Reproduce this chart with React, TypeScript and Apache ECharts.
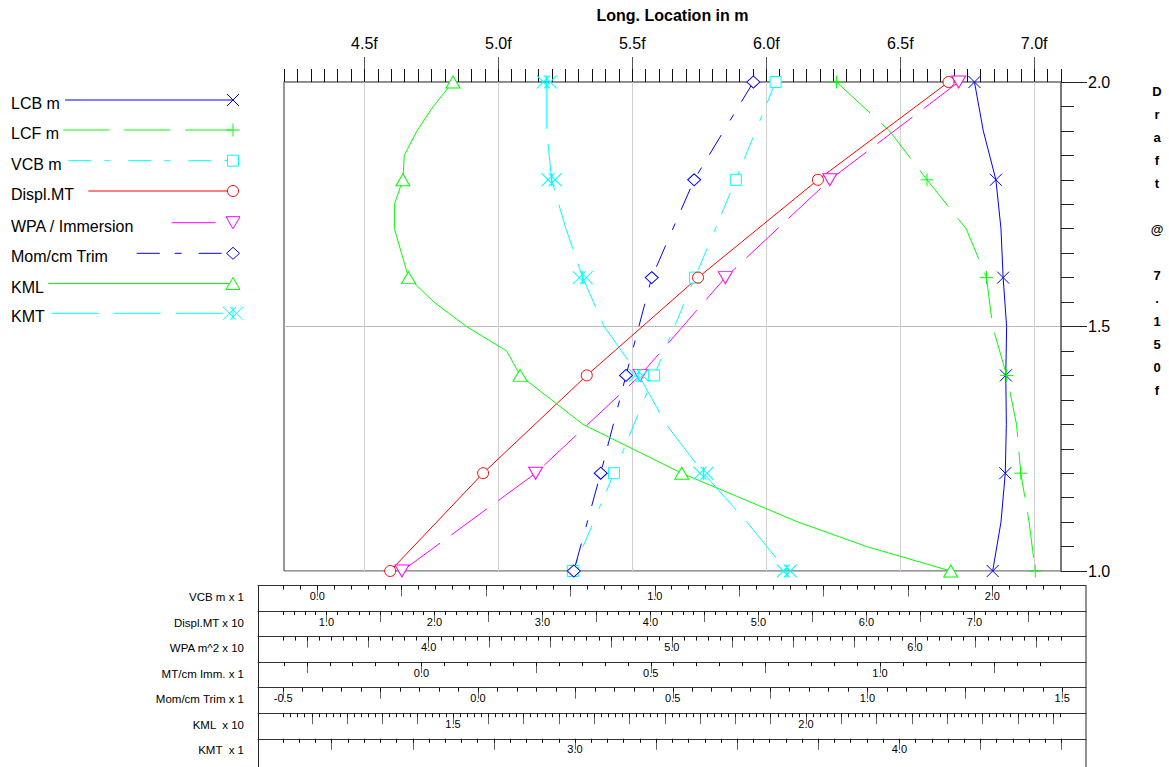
import React, { useEffect, useRef } from 'react';
import * as echarts from 'echarts';

const FONT = 'Liberation Sans, Arial, Helvetica, sans-serif';

// ---------- data (drafts in m, values in each curve's own unit) ----------
const drafts11 = [2.0, 1.9, 1.8, 1.7, 1.6, 1.5, 1.4, 1.3, 1.2, 1.1, 1.0];
const drafts6 = [2.0, 1.8, 1.6, 1.4, 1.2, 1.0];
const kmlDrafts = [2.0, 1.95, 1.9, 1.85, 1.8, 1.75, 1.7, 1.6, 1.55, 1.5, 1.45, 1.4, 1.3, 1.2, 1.1, 1.05, 1.0];

const lcbValues = [6.777, 6.81, 6.857, 6.876, 6.884, 6.897, 6.894, 6.896, 6.892, 6.876, 6.845]; // m
const lcfValues = [6.262, 6.46, 6.6, 6.746, 6.822, 6.845, 6.897, 6.934, 6.95, 6.981, 7.004]; // m
const vcbValues = [1.358, 1.24, 1.119, 0.998, 0.879, 0.757]; // m
const displValues = [67.6, 55.5, 44.4, 34.1, 24.5, 15.9]; // MT
const wpaValues = [61.8, 56.5, 52.2, 48.7, 44.4, 38.9]; // m^2
const momValues = [0.707, 0.555, 0.446, 0.38, 0.315, 0.246]; // MT-m/cm
const kmlValues = [15.0, 14.72, 14.49, 14.31, 14.29, 14.17, 14.17, 14.37, 14.73, 15.19, 15.76, 15.95, 16.84, 18.24, 19.89, 20.86, 22.05]; // m
const kmtValues = [2.913, 2.913, 2.928, 2.972, 3.024, 3.09, 3.197, 3.281, 3.396, 3.53, 3.653]; // m

const legendNames = ['LCB m', 'LCF m', 'VCB m', 'Displ.MT', 'WPA / Immersion', 'Mom/cm Trim', 'KML', 'KMT'];
const scaleNames = ['VCB m x 1', 'Displ.MT x 10', 'WPA m^2 x 10', 'MT/cm Imm. x 1', 'Mom/cm Trim x 1', 'KML  x 10', 'KMT  x 1'];

// tick labels
const mainMin = 4.2;
const mainMax = 7.1;
const draftMin = 1.0;
const draftMax = 2.0;
const vcbTickLabels = [0, 1, 2];
const displTickLabels = [10, 20, 30, 40, 50, 60, 70];
const wpaTickLabels = [40, 50, 60];
const immTickLabels = [0, 0.5, 1.0];
const momTickLabels = [-0.5, 0, 0.5, 1.0, 1.5];
const kmlTickLabels = [15, 20];
const kmtTickLabels = [3, 4];

// ---------- layout / scale calibration ----------
const PLOT_L = 284;
const PLOT_R = 1061;
const PLOT_T = 82;
const PLOT_B = 571;
const ROW_L = 258;
const ROW_R = 1086;
const ROW_TOP = 585.5;
const ROW_H = 25.55;

const scaleDefs = [
  { anchor: 0, px: 317.3, k: 337.5, major: 0.25, minor: 0.05, div: 1, labels: vcbTickLabels },
  { anchor: 10, px: 326.5, k: 10.8, major: 5, minor: 1, div: 10, labels: displTickLabels },
  { anchor: 40, px: 428.7, k: 24.31, major: 2.5, minor: 0.5, div: 10, labels: wpaTickLabels },
  { anchor: 0, px: 421.5, k: 458.5, major: 0.25, minor: 0.05, div: 1, labels: immTickLabels },
  { anchor: 0, px: 478, k: 389.5, major: 0.25, minor: 0.05, div: 1, labels: momTickLabels },
  { anchor: 15, px: 453, k: 70.6, major: 0.5, minor: 0.1, div: 10, labels: kmlTickLabels },
  { anchor: 3, px: 575, k: 324.4, major: 0.25, minor: 0.05, div: 1, labels: kmtTickLabels },
];

function ticks(min: number, max: number, step: number) {
  const out: number[] = [];
  const start = Math.ceil(min / step - 1e-6);
  for (let i = start; i * step <= max + 1e-6; i++) out.push(Number((i * step).toFixed(6)));
  return out;
}

const C = {
  blue: '#0000ff',
  green: '#00ff00',
  cyan: '#00ffff',
  red: '#ff0000',
  magenta: '#ff00ff',
};

const SYM_X = 'path://M0,0L12,12M12,0L0,12';
const SYM_PLUS = 'path://M6,0L6,12M0,6L12,6';
const SYM_KMT = 'path://M0,0L13,13M13,0L0,13M7,0L20,13M20,0L7,13M10,0L10,13';

function isMarked(d: number) {
  return Math.abs(d * 5 - Math.round(d * 5)) < 1e-6;
}

function buildOption() {
  const grids: any[] = [];
  const xAxes: any[] = [];
  const yAxes: any[] = [];

  // main grid
  grids.push({
    left: PLOT_L, top: PLOT_T, width: PLOT_R - PLOT_L, height: PLOT_B - PLOT_T,
    show: true, borderColor: '#333', borderWidth: 1, backgroundColor: 'transparent',
    outerBoundsMode: 'none', containLabel: false,
  });
  const mainMajor = ticks(mainMin, mainMax, 0.5);
  const mainMinor = ticks(mainMin, mainMax, 0.05);
  xAxes.push({
    gridIndex: 0, type: 'value', position: 'top', min: mainMin, max: mainMax,
    axisLine: { show: true, onZero: false, lineStyle: { color: '#888', width: 1.5 } },
    axisTick: { show: true, customValues: mainMajor, length: 25, lineStyle: { color: '#555' } },
    axisLabel: {
      show: true, customValues: mainMajor, formatter: (v: number) => v.toFixed(1) + 'f',
      fontSize: 16, color: '#000', margin: 31, fontFamily: FONT,
    },
    splitLine: { show: false },
  });
  xAxes.push({
    gridIndex: 0, type: 'value', position: 'top', min: mainMin, max: mainMax,
    axisLine: { show: false, onZero: false },
    axisTick: { show: true, customValues: mainMinor, length: 13, lineStyle: { color: '#111' } },
    axisLabel: { show: false },
    splitLine: { show: false },
  });
  // hidden axes for the curves that use the lower scales (indices 2..8)
  scaleDefs.forEach((s) => {
    xAxes.push({
      gridIndex: 0, type: 'value', position: 'top', show: false,
      min: s.anchor + (PLOT_L - s.px) / s.k, max: s.anchor + (PLOT_R - s.px) / s.k,
      axisLine: { onZero: false }, splitLine: { show: false },
    });
  });
  yAxes.push({
    gridIndex: 0, type: 'value', position: 'right', min: draftMin, max: draftMax, interval: 0.5,
    axisLine: { show: true, onZero: false, lineStyle: { color: '#777', width: 2 } },
    axisTick: { show: true, length: 26, lineStyle: { color: '#222' } },
    minorTick: { show: true, splitNumber: 10, length: 13, lineStyle: { color: '#222' } },
    axisLabel: { fontSize: 16, color: '#000', margin: 27, fontFamily: FONT, formatter: (v: number) => v.toFixed(1) },
    splitLine: { show: true, lineStyle: { color: '#bbb', width: 1 } },
  });

  // lower scale rows
  scaleDefs.forEach((s, i) => {
    const gi = i + 1;
    const top = ROW_TOP + i * ROW_H;
    grids.push({ left: ROW_L, top, width: ROW_R - ROW_L, height: 24, show: false, outerBoundsMode: 'none', containLabel: false });
    const rMin = s.anchor + (ROW_L - s.px) / s.k;
    const rMax = s.anchor + (ROW_R - s.px) / s.k;
    const tol = 1.5 / s.k;
    const tMin = s.anchor + (PLOT_L - s.px) / s.k - tol;
    const tMax = s.anchor + (PLOT_R - s.px) / s.k + tol;
    xAxes.push({
      gridIndex: gi, type: 'value', position: 'top', min: rMin, max: rMax,
      axisLine: { show: true, onZero: false, lineStyle: { color: '#333', width: 1 } },
      axisTick: { show: true, inside: true, customValues: ticks(tMin, tMax, s.major), length: 11, lineStyle: { color: '#666' } },
      axisLabel: {
        show: true, inside: true, customValues: s.labels, margin: 5, fontSize: 11, color: '#000', fontFamily: FONT,
        formatter: (v: number) => (v / s.div).toFixed(1),
      },
      splitLine: { show: false },
    });
    xAxes.push({
      gridIndex: gi, type: 'value', position: 'top', min: rMin, max: rMax,
      axisLine: { show: false, onZero: false },
      axisTick: { show: true, inside: true, customValues: ticks(tMin, tMax, s.minor), length: 4, lineStyle: { color: '#111' } },
      axisLabel: { show: false },
      splitLine: { show: false },
    });
    yAxes.push({ gridIndex: gi, type: 'value', show: false, min: 1, max: 2 });
  });

  const mk = (
    name: string, values: number[], drafts: number[], xAxisIndex: number, color: string,
    dash: any, symbol: string, size: any, hollow: boolean, rotate = 0, extra: any = {},
  ) => ({
    name, type: 'line', xAxisIndex, yAxisIndex: 0, silent: true, clip: false,
    showSymbol: true, showAllSymbol: true, symbolSize: size, symbolRotate: rotate,
    lineStyle: { color, width: 1, type: dash },
    itemStyle: { color: hollow ? '#ffffff' : 'transparent', borderColor: color, borderWidth: 1 },
    emphasis: { disabled: true },
    z: 3,
    data: values.map((v, i) => ({ value: [v, drafts[i]], symbol: isMarked(drafts[i]) ? symbol : 'none' })),
    ...extra,
  });

  const series: any[] = [
    mk('LCB m', lcbValues, drafts11, 0, C.blue, 'solid', SYM_X, 12, false, 0, {
      markLine: {
        silent: true, symbol: ['none', 'none'], label: { show: false },
        lineStyle: { color: '#cfcfcf', type: 'solid', width: 1 },
        data: mainMajor.map((v) => ({ xAxis: v })),
        z: 1,
      },
    }),
    mk('LCF m', lcfValues, drafts11, 0, C.green, [46, 15], SYM_PLUS, 13, false),
    mk('VCB m', vcbValues, drafts6, 2, C.cyan, [23, 13, 6, 18], 'rect', 11, true),
    mk('Displ.MT', displValues, drafts6, 3, C.red, 'solid', 'circle', 11, true),
    mk('WPA / Immersion', wpaValues, drafts6, 4, C.magenta, [44, 14], 'triangle', [14, 12], true, 180),
    mk('Mom/cm Trim', momValues, drafts6, 6, C.blue, [23, 15, 7, 17], 'diamond', [13, 12], true),
    mk('KML', kmlValues, kmlDrafts, 7, C.green, 'solid', 'triangle', [14, 12], true),
    mk('KMT', kmtValues, drafts11, 8, C.cyan, [47, 15], SYM_KMT, [20, 13], false),
  ];

  // ---------- graphics: legend, titles, scale names, frame ----------
  const g: any[] = [];
  const line = (x1: number, y1: number, x2: number, y2: number, stroke: string, dash?: number[]) => ({
    type: 'line', silent: true, shape: { x1, y1, x2, y2 },
    style: { stroke, lineWidth: 1, lineDash: dash || null },
  });
  const text = (x: number, y: number, t: string, size: number, align: string, bold = false, extra: any = {}) => ({
    type: 'text', x, y, silent: true,
    style: {
      text: t, fill: '#000', fontSize: size, fontFamily: FONT, fontWeight: bold ? 'bold' : 'normal',
      align, verticalAlign: 'middle', ...extra,
    },
  });
  const poly = (pts: number[][], stroke: string) => ({
    type: 'polygon', silent: true, shape: { points: pts }, style: { fill: '#fff', stroke, lineWidth: 1 },
  });

  g.push(text((PLOT_L + PLOT_R) / 2, 15, 'Long. Location in m', 16, 'center', true));
  g.push(text(1157, 79.5, 'D\nr\na\nf\nt\n\n@\n\n7\n.\n1\n5\n0\nf', 13, 'center', true, { verticalAlign: 'top', lineHeight: 23 }));

  const legY = [100, 130, 160.7, 191, 222.7, 253.3, 283.5, 313.3];
  const legStart = [65, 63.3, 68.3, 88.3, 171.7, 136.7, 48.3, 51.7];
  const legColor = [C.blue, C.green, C.cyan, C.red, C.magenta, C.blue, C.green, C.cyan];
  const legDash: (number[] | undefined)[] = [undefined, [46, 15], [23, 13, 6, 18], undefined, [44, 14], [23, 15, 7, 17], undefined, [47, 15]];
  const MX = 233;
  legendNames.forEach((n, i) => {
    const y = legY[i];
    const c = legColor[i];
    g.push(text(11, y + 3.5, n, 16, 'left'));
    g.push(line(legStart[i], y, MX, y, c, legDash[i]));
    switch (i) {
      case 0:
        g.push(line(MX - 6, y - 6, MX + 6, y + 6, c), line(MX + 6, y - 6, MX - 6, y + 6, c));
        break;
      case 1:
        g.push(line(MX, y - 6.5, MX, y + 6.5, c), line(MX - 6.5, y, MX + 6.5, y, c));
        break;
      case 2:
        g.push({ type: 'rect', silent: true, shape: { x: MX - 5.5, y: y - 5.5, width: 11, height: 11 }, style: { fill: '#fff', stroke: c, lineWidth: 1 } });
        break;
      case 3:
        g.push({ type: 'circle', silent: true, shape: { cx: MX, cy: y, r: 5.5 }, style: { fill: '#fff', stroke: c, lineWidth: 1 } });
        break;
      case 4:
        g.push(poly([[MX - 7, y - 6], [MX + 7, y - 6], [MX, y + 6]], c));
        break;
      case 5:
        g.push(poly([[MX, y - 6], [MX + 6.5, y], [MX, y + 6], [MX - 6.5, y]], c));
        break;
      case 6:
        g.push(poly([[MX - 7, y + 6], [MX + 7, y + 6], [MX, y - 6]], c));
        break;
      case 7:
        g.push(
          line(MX - 10, y - 6.5, MX + 3, y + 6.5, c), line(MX + 3, y - 6.5, MX - 10, y + 6.5, c),
          line(MX - 3, y - 6.5, MX + 10, y + 6.5, c), line(MX + 10, y - 6.5, MX - 3, y + 6.5, c),
          line(MX, y - 6.5, MX, y + 6.5, c),
        );
        break;
    }
  });

  scaleNames.forEach((n, i) => {
    g.push(text(244, ROW_TOP + i * ROW_H + 11.5, n, 11.5, 'right'));
  });
  g.push(line(ROW_L + 0.5, ROW_TOP, ROW_L + 0.5, 767, '#222'));
  g.push(line(ROW_R, ROW_TOP, ROW_R, 767, '#222'));

  return {
    animation: false,
    backgroundColor: '#ffffff',
    textStyle: { fontFamily: FONT },
    grid: grids,
    xAxis: xAxes,
    yAxis: yAxes,
    series,
    graphic: { elements: g },
  };
}

export default function App() {
  const ref = useRef<HTMLDivElement>(null);
  useEffect(() => {
    if (!ref.current) return;
    const chart = echarts.init(ref.current, null, { renderer: 'svg' });
    chart.setOption(buildOption() as any);
    return () => chart.dispose();
  }, []);
  return (
    <div
      ref={ref}
      style={{ position: 'fixed', left: 0, top: 0, width: 1169, height: 767, background: '#fff' }}
    />
  );
}
